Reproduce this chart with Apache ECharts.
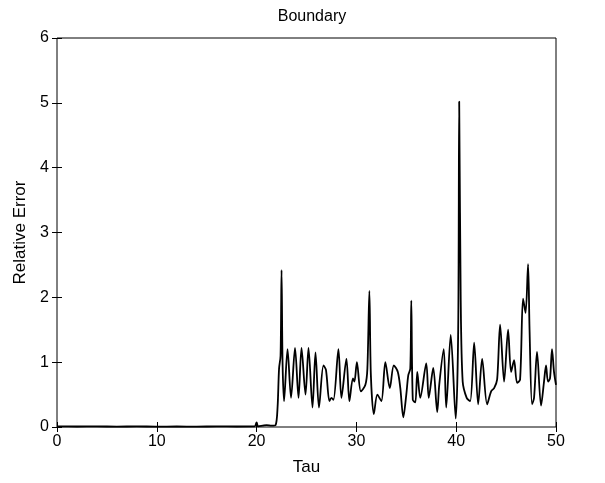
<!DOCTYPE html>
<html>
<head>
<meta charset="utf-8">
<script src="https://cdn.jsdelivr.net/npm/echarts@6/dist/echarts.min.js"></script>
<style>html,body{margin:0;padding:0;background:#fff}#c{width:605px;height:483px}</style>
</head>
<body>
<div id="c"></div>
<script>
// Data
var tau = [0, 2, 4, 6, 8, 10, 12, 14, 16, 18, 19.8, 20.0, 20.15, 20.6, 21.0, 21.5, 21.9, 22.1, 22.25, 22.4, 22.5, 22.6, 22.75,
  23.1, 23.45, 23.85, 24.2, 24.5, 24.9, 25.2, 25.6, 25.9, 26.25, 26.7, 26.95, 27.3, 27.5, 27.7, 28.2, 28.5, 29.0, 29.3, 29.65, 29.8,
  30.05, 30.45, 30.9, 31.1, 31.3, 31.45, 31.75, 32.1, 32.5, 32.9, 33.35, 33.75, 34.15, 34.4, 34.7, 35.0, 35.2, 35.4, 35.5, 35.65, 35.9,
  36.1, 36.4, 37.0, 37.25, 37.7, 38.1, 38.3, 38.75, 39.0, 39.45, 39.95, 40.2, 40.3, 40.45, 40.65, 41.05, 41.4, 41.8, 42.2, 42.6,
  43.1, 43.5, 43.8, 44.1, 44.4, 44.8, 45.2, 45.5, 45.8, 46.1, 46.4, 46.7, 46.95, 47.2, 47.35, 47.6, 47.8, 48.1, 48.5, 48.8, 49.0,
  49.2, 49.4, 49.6, 49.8, 50.0];
var relErr = [0.01, 0.008, 0.01, 0.006, 0.01, 0.005, 0.008, 0.006, 0.01, 0.008, 0.01, 0.07, 0.01, 0.02, 0.03, 0.02, 0.03, 0.3, 0.9, 1.1, 2.42, 1.0, 0.4,
  1.2, 0.45, 1.22, 0.45, 1.22, 0.5, 1.22, 0.3, 1.15, 0.3, 0.95, 0.88, 0.4, 0.45, 0.42, 1.2, 0.45, 1.05, 0.4, 0.75, 0.7,
  1.0, 0.55, 0.65, 0.9, 2.1, 0.8, 0.2, 0.5, 0.4, 1.0, 0.6, 0.95, 0.85, 0.6, 0.15, 0.5, 0.8, 0.9, 1.95, 0.42, 0.38,
  0.85, 0.45, 0.98, 0.45, 0.91, 0.23, 0.65, 1.2, 0.3, 1.42, 0.13, 1.5, 5.02, 2.0, 0.7, 0.45, 0.4, 1.3, 0.35, 1.05,
  0.35, 0.55, 0.6, 0.73, 1.58, 0.7, 1.5, 0.85, 1.03, 0.68, 0.73, 1.98, 1.76, 2.51, 1.5, 0.35, 0.45, 1.16, 0.33, 0.7, 0.95,
  0.7, 0.75, 1.2, 0.85, 0.65];
var xTicks = [0, 10, 20, 30, 40, 50];
var yTicks = [0, 1, 2, 3, 4, 5, 6];
var titleText = 'Boundary';
var xName = 'Tau';
var yName = 'Relative Error';

var points = tau.map(function (t, i) { return [t, relErr[i]]; });
var FONT = 'Liberation Sans, Arial, Helvetica, sans-serif';
var nameTxt = { color: '#000', fontFamily: FONT, fontSize: 17 };

function xAx(pos, showLabel) {
  return {
    type: 'value', position: pos, min: xTicks[0], max: xTicks[xTicks.length - 1], interval: 10,
    axisLine: { show: false },
    axisTick: { show: true, inside: true, length: 5, lineStyle: { color: '#000', width: 1 } },
    axisLabel: { show: showLabel, margin: 7, color: '#000', fontFamily: FONT, fontSize: 16 },
    splitLine: { show: false },
    name: showLabel ? xName : '', nameLocation: 'middle', nameGap: 32,
    nameTextStyle: nameTxt
  };
}
function yAx(pos, showLabel) {
  return {
    type: 'value', position: pos, min: yTicks[0], max: yTicks[yTicks.length - 1], interval: 1,
    axisLine: { show: false },
    axisTick: { show: true, inside: true, length: 5, lineStyle: { color: '#000', width: 1 } },
    axisLabel: { show: showLabel, margin: 8, color: '#000', fontFamily: FONT, fontSize: 16 },
    splitLine: { show: false },
    name: showLabel ? yName : '', nameLocation: 'middle', nameGap: 27,
    nameTextStyle: nameTxt
  };
}

var chart = echarts.init(document.getElementById('c'), null, { renderer: 'canvas' });
chart.setOption({
  animation: false,
  backgroundColor: '#fff',
  title: { text: titleText, left: 307, textAlign: 'center', top: 4, textStyle: { color: '#000', fontFamily: FONT, fontSize: 16, fontWeight: 'normal' } },
  grid: { left: 57, right: 49, top: 38, bottom: 56, show: true, borderColor: '#000', borderWidth: 1, backgroundColor: 'transparent' },
  xAxis: [xAx('bottom', true), xAx('top', false)],
  yAxis: [yAx('left', true), yAx('right', false)],
  series: [{
    type: 'line', xAxisIndex: 0, yAxisIndex: 0, data: points,
    showSymbol: false, smooth: 0.3,
    lineStyle: { color: '#000', width: 1.8 }
  }]
});
</script>
</body>
</html>
